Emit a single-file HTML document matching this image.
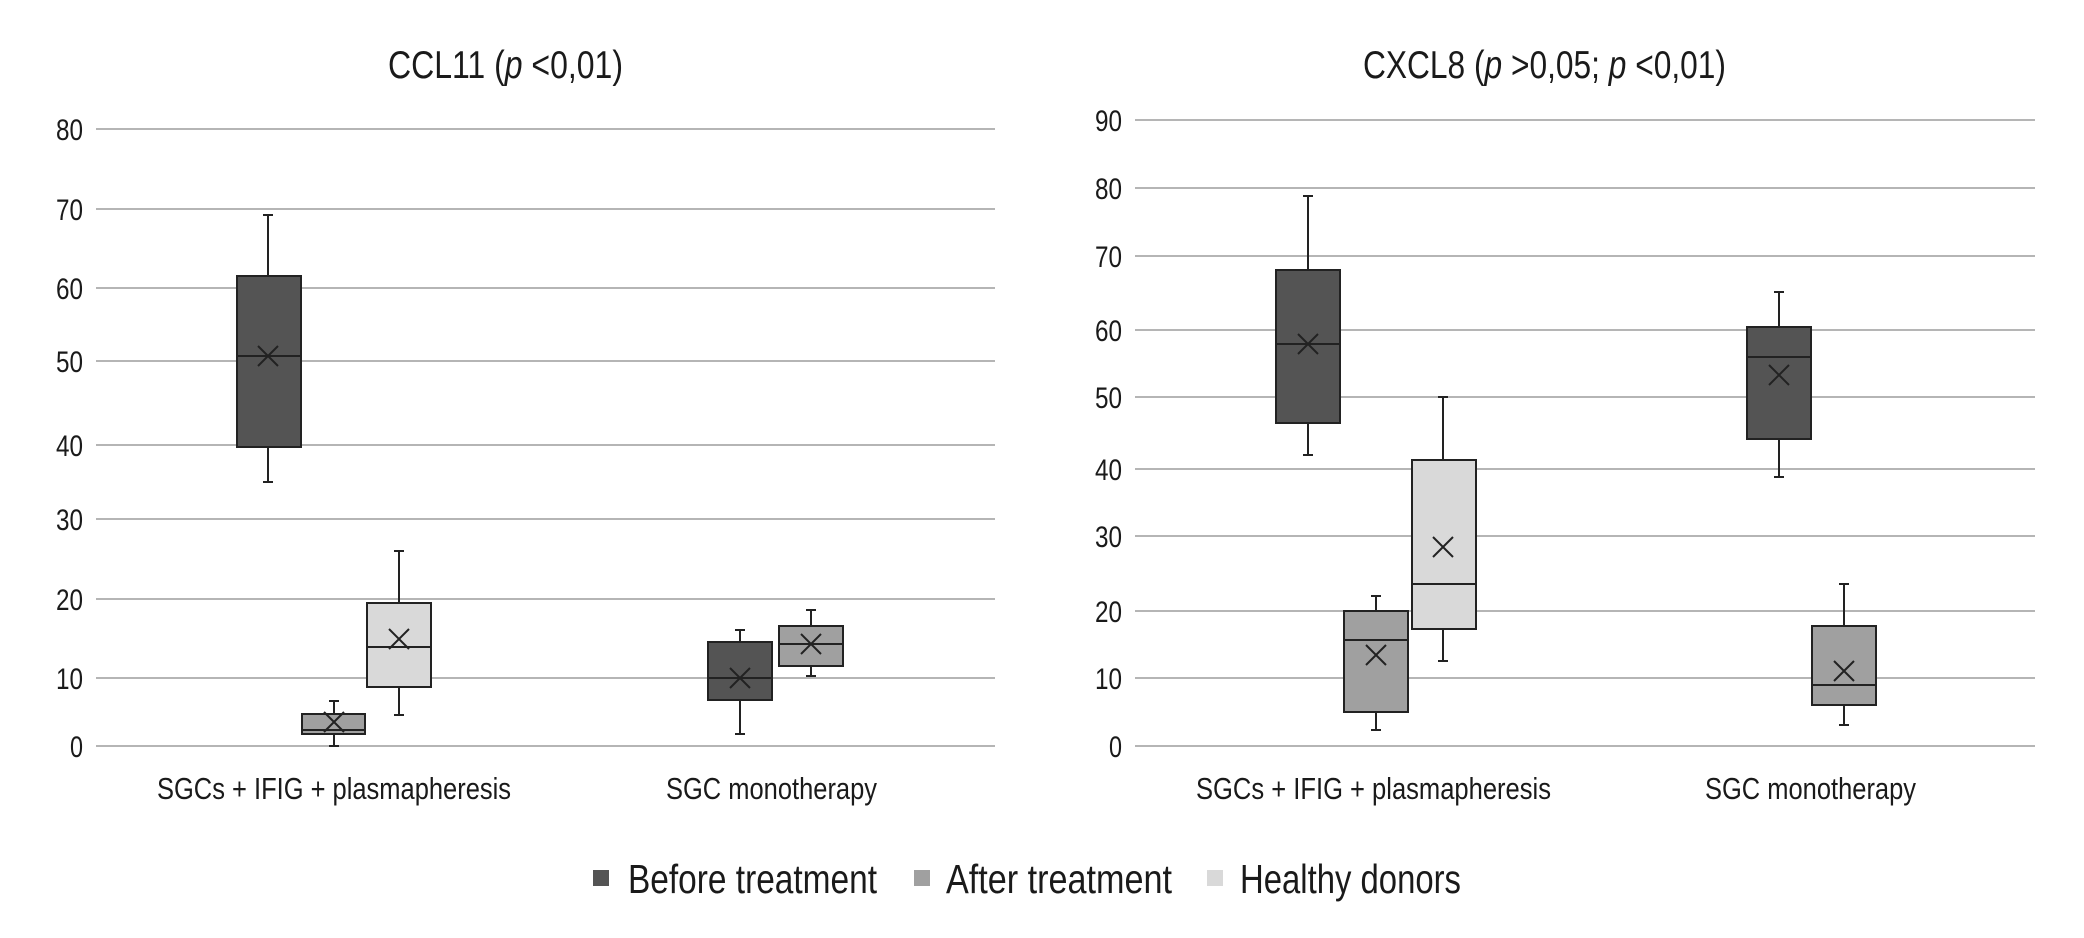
<!DOCTYPE html>
<html><head><meta charset="utf-8"><style>
html,body{margin:0;padding:0;background:#fff;}
svg{display:block;}
text{font-family:"Liberation Sans",sans-serif;fill:#1a1a1a;}
</style></head><body>
<svg width="2084" height="938" viewBox="0 0 2084 938" xmlns="http://www.w3.org/2000/svg">
<g stroke="#b5b5b5" stroke-width="2">
<line x1="96" x2="995" y1="129" y2="129"/><line x1="96" x2="995" y1="209" y2="209"/>
<line x1="96" x2="995" y1="288" y2="288"/><line x1="96" x2="995" y1="361" y2="361"/>
<line x1="96" x2="995" y1="445" y2="445"/><line x1="96" x2="995" y1="519" y2="519"/>
<line x1="96" x2="995" y1="599" y2="599"/><line x1="96" x2="995" y1="678" y2="678"/>
<line x1="96" x2="995" y1="746" y2="746"/>
<line x1="1135" x2="2035" y1="120" y2="120"/><line x1="1135" x2="2035" y1="188" y2="188"/>
<line x1="1135" x2="2035" y1="256" y2="256"/><line x1="1135" x2="2035" y1="330" y2="330"/>
<line x1="1135" x2="2035" y1="397" y2="397"/><line x1="1135" x2="2035" y1="469" y2="469"/>
<line x1="1135" x2="2035" y1="536" y2="536"/><line x1="1135" x2="2035" y1="611" y2="611"/>
<line x1="1135" x2="2035" y1="678" y2="678"/><line x1="1135" x2="2035" y1="746" y2="746"/>
</g>
<g font-size="30" lengthAdjust="spacingAndGlyphs">
<text x="56" y="140" textLength="27" lengthAdjust="spacingAndGlyphs">80</text><text x="56" y="220" textLength="27" lengthAdjust="spacingAndGlyphs">70</text><text x="56" y="299" textLength="27" lengthAdjust="spacingAndGlyphs">60</text>
<text x="56" y="372" textLength="27" lengthAdjust="spacingAndGlyphs">50</text><text x="56" y="456" textLength="27" lengthAdjust="spacingAndGlyphs">40</text><text x="56" y="530" textLength="27" lengthAdjust="spacingAndGlyphs">30</text>
<text x="56" y="610" textLength="27" lengthAdjust="spacingAndGlyphs">20</text><text x="56" y="689" textLength="27" lengthAdjust="spacingAndGlyphs">10</text><text x="70" y="757" textLength="13" lengthAdjust="spacingAndGlyphs">0</text>
<text x="1095" y="131" textLength="27" lengthAdjust="spacingAndGlyphs">90</text><text x="1095" y="199" textLength="27" lengthAdjust="spacingAndGlyphs">80</text><text x="1095" y="267" textLength="27" lengthAdjust="spacingAndGlyphs">70</text>
<text x="1095" y="341" textLength="27" lengthAdjust="spacingAndGlyphs">60</text><text x="1095" y="408" textLength="27" lengthAdjust="spacingAndGlyphs">50</text><text x="1095" y="480" textLength="27" lengthAdjust="spacingAndGlyphs">40</text>
<text x="1095" y="547" textLength="27" lengthAdjust="spacingAndGlyphs">30</text><text x="1095" y="622" textLength="27" lengthAdjust="spacingAndGlyphs">20</text><text x="1095" y="689" textLength="27" lengthAdjust="spacingAndGlyphs">10</text>
<text x="1109" y="757" textLength="13" lengthAdjust="spacingAndGlyphs">0</text>
</g>
<text x="388" y="78" font-size="39" textLength="235" lengthAdjust="spacingAndGlyphs">CCL11 (<tspan font-style="italic">p</tspan> &lt;0,01)</text>
<text x="1363" y="78" font-size="39" textLength="363" lengthAdjust="spacingAndGlyphs">CXCL8 (<tspan font-style="italic">p</tspan> &gt;0,05; <tspan font-style="italic">p</tspan> &lt;0,01)</text>
<g font-size="31">
<text x="157" y="799" textLength="354" lengthAdjust="spacingAndGlyphs">SGCs + IFIG + plasmapheresis</text>
<text x="666" y="799" textLength="211" lengthAdjust="spacingAndGlyphs">SGC monotherapy</text>
<text x="1196" y="799" textLength="355" lengthAdjust="spacingAndGlyphs">SGCs + IFIG + plasmapheresis</text>
<text x="1705" y="799" textLength="211" lengthAdjust="spacingAndGlyphs">SGC monotherapy</text>
</g>
<g stroke="#222" stroke-width="2">
<path d="M268,215V482M263,215H273M263,482H273"/>
<path d="M334,701V746M329,701H339M329,746H339"/>
<path d="M399,551V715M394,551H404M394,715H404"/>
<path d="M740,630V734M735,630H745M735,734H745"/>
<path d="M811,610V676M806,610H816M806,676H816"/>
<path d="M1308,196V455M1303,196H1313M1303,455H1313"/>
<path d="M1376,596V730M1371,596H1381M1371,730H1381"/>
<path d="M1443,397V661M1438,397H1448M1438,661H1448"/>
<path d="M1779,292V477M1774,292H1784M1774,477H1784"/>
<path d="M1844,584V725M1839,584H1849M1839,725H1849"/>
<rect x="237" y="276" width="64" height="171" fill="#545454"/>
<rect x="302" y="714" width="63" height="20" fill="#a0a0a0"/>
<rect x="367" y="603" width="64" height="84" fill="#d9d9d9"/>
<rect x="708" y="642" width="64" height="58" fill="#545454"/>
<rect x="779" y="626" width="64" height="40" fill="#a0a0a0"/>
<rect x="1276" y="270" width="64" height="153" fill="#545454"/>
<rect x="1344" y="611" width="64" height="101" fill="#a0a0a0"/>
<rect x="1412" y="460" width="64" height="169" fill="#d9d9d9"/>
<rect x="1747" y="327" width="64" height="112" fill="#545454"/>
<rect x="1812" y="626" width="64" height="79" fill="#a0a0a0"/>
<path d="M237,356H301M302,730H365M367,647H431M708,678H772M779,644H843"/>
<path d="M1276,344H1340M1344,640H1408M1412,584H1476M1747,357H1811M1812,685H1876"/>
<path d="M258,346L278,366M258,366L278,346"/>
<path d="M324,712L344,732M324,732L344,712"/>
<path d="M389,629L409,649M389,649L409,629"/>
<path d="M730,668L750,688M730,688L750,668"/>
<path d="M801,634L821,654M801,654L821,634"/>
<path d="M1298,334L1318,354M1298,354L1318,334"/>
<path d="M1366,645L1386,665M1366,665L1386,645"/>
<path d="M1433,537L1453,557M1433,557L1453,537"/>
<path d="M1769,365L1789,385M1769,385L1789,365"/>
<path d="M1834,661L1854,681M1834,681L1854,661"/>
</g>
<rect x="593" y="870" width="16" height="16" fill="#545454"/>
<rect x="914" y="870" width="16" height="16" fill="#a0a0a0"/>
<rect x="1207" y="870" width="16" height="16" fill="#d9d9d9"/>
<g font-size="41">
<text x="628" y="893" textLength="249" lengthAdjust="spacingAndGlyphs">Before treatment</text>
<text x="946" y="893" textLength="226" lengthAdjust="spacingAndGlyphs">After treatment</text>
<text x="1240" y="893" textLength="221" lengthAdjust="spacingAndGlyphs">Healthy donors</text>
</g>
</svg>
</body></html>
